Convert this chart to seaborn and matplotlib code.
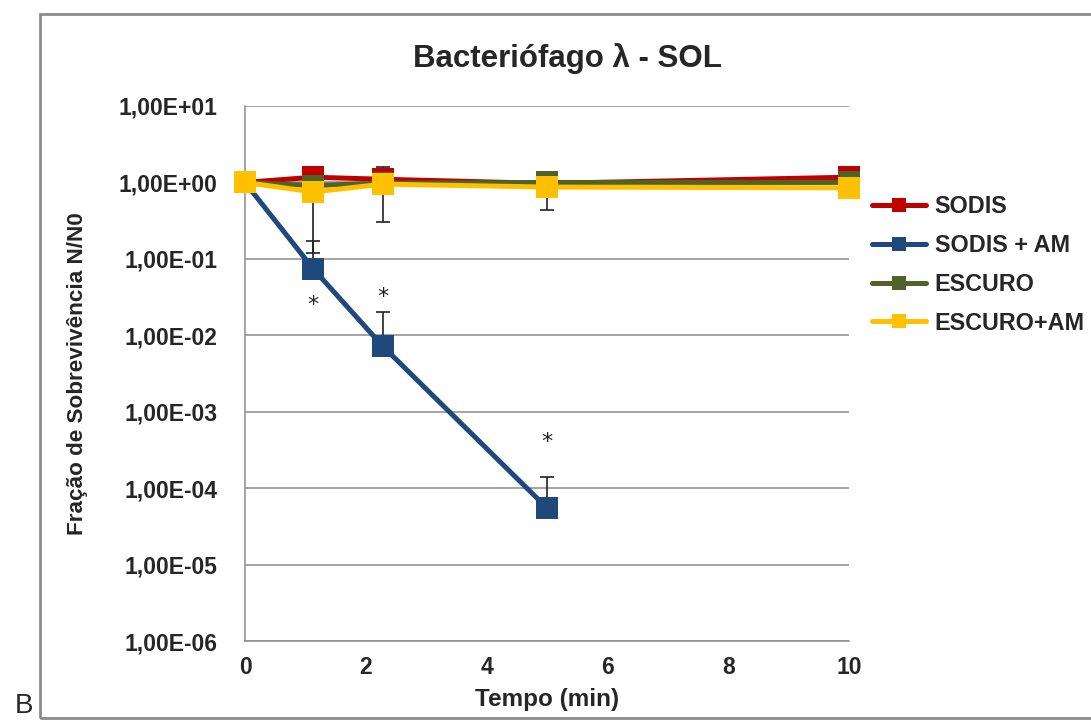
import numpy as np
import pandas as pd
import matplotlib
matplotlib.use("Agg")
import matplotlib.pyplot as plt
from matplotlib.ticker import FuncFormatter, FixedLocator
from matplotlib.patches import Rectangle
import seaborn as sns

# ---- data ----
tempo = [0, 1.13, 2.28, 5, 10]
series_names = ["SODIS", "SODIS + AM", "ESCURO", "ESCURO+AM"]
sodis = [1.0, 1.17, 1.10, 0.97, 1.17]
sodis_am = [1.0, 0.074, 0.0072, 5.5e-5, np.nan]
escuro = [1.0, 0.91, 0.98, 1.0, 1.0]
escuro_am = [1.0, 0.75, 0.95, 0.87, 0.85]
colors = ["#C00000", "#1F497D", "#4F6228", "#FFC000"]

# error bars
err_sodis_x = [2.28]
err_sodis_hi = [1.6]
err_sodis_am_x = [1.13, 2.28, 5]
err_sodis_am_hi = [0.17, 0.020, 1.4e-4]
err_escuro_am_x = [1.13, 2.28, 5]
err_escuro_am_lo = [0.12, 0.30, 0.43]

star_x = [1.13, 2.28, 5]
star_y = [0.025, 0.032, 4.0e-4]

yticks = [1e-6, 1e-5, 1e-4, 1e-3, 1e-2, 1e-1, 1e0, 1e1]
xticks = [0, 2, 4, 6, 8, 10]

title = "Bacteriófago λ - SOL"
xlabel = "Tempo (min)"
ylabel = "Fração de Sobrevivência N/N0"

# ---- build frame ----
rows = []
for name, vals in zip(series_names, [sodis, sodis_am, escuro, escuro_am]):
    for t, v in zip(tempo, vals):
        if not np.isnan(v):
            rows.append({"Tempo": t, "N/N0": v, "Série": name})
df = pd.DataFrame(rows)

sns.set_style("white")
plt.rcParams["font.family"] = ["Liberation Sans", "DejaVu Sans"]
plt.rcParams["font.weight"] = "bold"

W, H = 1091, 720
fig = plt.figure(figsize=(W / 100, H / 100), dpi=100)
ax = fig.add_axes([245 / W, 1 - 641 / H, (849 - 245) / W, (641 - 106) / H])

sns.lineplot(data=df, x="Tempo", y="N/N0", hue="Série", hue_order=series_names,
             palette=colors, marker="s", markersize=16.5, markeredgewidth=0,
             linewidth=3.6, ax=ax, legend=True, zorder=3, sort=True)
for ln in ax.lines:
    ln.set_clip_on(False)

ax.set_yscale("log")
ax.set_ylim(1e-6, 1e1)
ax.set_xlim(0, 10)

# error bars
ekw = dict(fmt="none", ecolor="#222222", elinewidth=1.2, capsize=4.8, capthick=1.2, zorder=2)
ax.errorbar(err_sodis_x, [sodis[tempo.index(x)] for x in err_sodis_x],
            yerr=[[0] * len(err_sodis_x),
                  [h - sodis[tempo.index(x)] for x, h in zip(err_sodis_x, err_sodis_hi)]], **ekw)
ax.errorbar(err_sodis_am_x, [sodis_am[tempo.index(x)] for x in err_sodis_am_x],
            yerr=[[0] * len(err_sodis_am_x),
                  [h - sodis_am[tempo.index(x)] for x, h in zip(err_sodis_am_x, err_sodis_am_hi)]], **ekw)
ax.errorbar(err_escuro_am_x, [escuro_am[tempo.index(x)] for x in err_escuro_am_x],
            yerr=[[escuro_am[tempo.index(x)] - l for x, l in zip(err_escuro_am_x, err_escuro_am_lo)],
                  [0] * len(err_escuro_am_x)], **ekw)

for sx, sy in zip(star_x, star_y):
    ax.text(sx, sy, "*", ha="center", va="center", fontsize=16, color="#222222",
            fontweight="normal", family=["DejaVu Sans"])

# axes styling
ax.yaxis.set_major_locator(FixedLocator(yticks))
ax.yaxis.set_minor_locator(FixedLocator([]))
ax.set_xticks(xticks)
ax.yaxis.set_major_formatter(FuncFormatter(lambda v, p: f"{v:.2E}".replace(".", ",")))
ax.grid(axis="y", color="#8C8C8C", linewidth=1.1)
ax.grid(axis="x", visible=False)
for s in ["top", "right"]:
    ax.spines[s].set_visible(False)
for s in ["left", "bottom"]:
    ax.spines[s].set_color("#8C8C8C")
    ax.spines[s].set_linewidth(1.1)
ax.tick_params(axis="y", length=8, width=1.1, color="#8C8C8C", pad=12, labelsize=16.5)
ax.tick_params(axis="x", length=8, width=1.1, color="#8C8C8C", pad=3, labelsize=16.5)
for lbl in ax.get_xticklabels() + ax.get_yticklabels():
    lbl.set_fontweight("bold")

ax.set_xlabel(xlabel, fontsize=17.5, fontweight="bold", labelpad=6)
ax.set_ylabel(ylabel, fontsize=16.2, fontweight="bold", labelpad=22)

fig.text(567 / W, 1 - 59 / H, title, ha="center", va="center", fontsize=22.5, fontweight="bold")

# legend
handles, labels = ax.get_legend_handles_labels()
ax.legend_.remove()
fig.legend(handles, labels, loc="upper left", bbox_to_anchor=(851 / W, 1 - 174 / H),
           frameon=False, handlelength=2.3, handletextpad=0.38,
           labelspacing=0.68, markerscale=0.6, prop={"weight": "bold", "size": 16.8})

# outer frame and panel letter
fig.patches.append(Rectangle((40 / W, 2 / H), 1.2, (718 - 14) / H, transform=fig.transFigure,
                             fill=False, edgecolor="#8C8C8C", linewidth=2))
fig.text(15 / W, 1 - 706 / H, "B", ha="left", va="center", fontsize=20, fontweight="normal")

fig.savefig("out.png", dpi=100)
